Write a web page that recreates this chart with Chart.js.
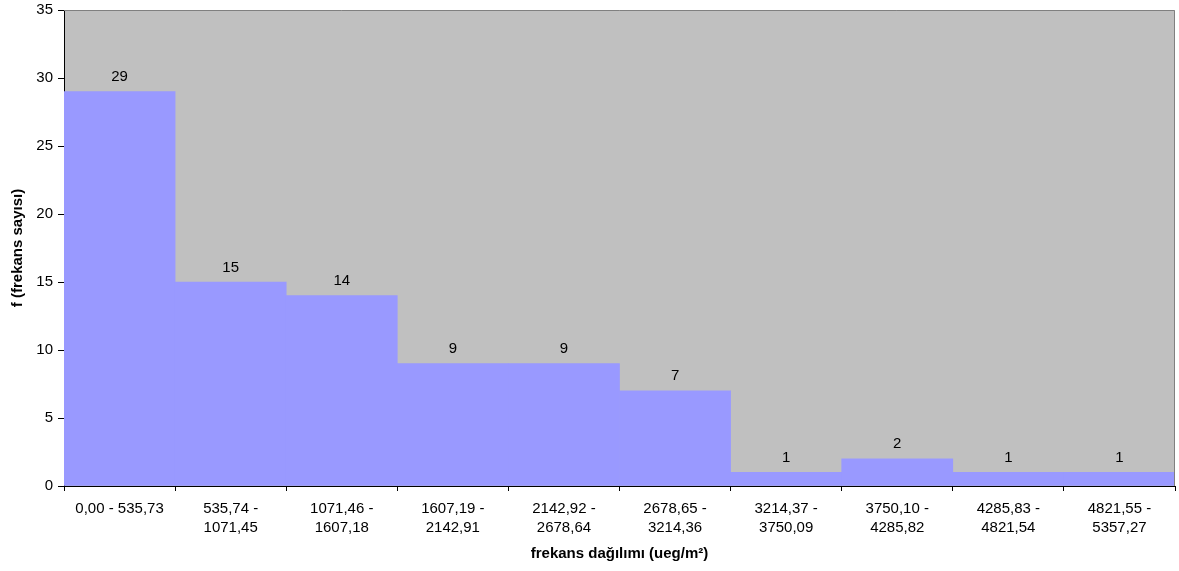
<!DOCTYPE html>
<html><head><meta charset="utf-8">
<script src="https://cdn.jsdelivr.net/npm/chart.js@4/dist/chart.umd.min.js"></script>
<style>html,body{margin:0;padding:0;background:#fff}#w{width:1179px;height:571px}</style>
</head><body><div id="w"><canvas id="c"></canvas></div>
<script>
const categories = [
  "0,00 - 535,73",
  ["535,74 -", "1071,45"],
  ["1071,46 -", "1607,18"],
  ["1607,19 -", "2142,91"],
  ["2142,92 -", "2678,64"],
  ["2678,65 -", "3214,36"],
  ["3214,37 -", "3750,09"],
  ["3750,10 -", "4285,82"],
  ["4285,83 -", "4821,54"],
  ["4821,55 -", "5357,27"]
];
const frequencies = [29, 15, 14, 9, 9, 7, 1, 2, 1, 1];
const yTitle = "f (frekans sayısı)";
const xTitle = "frekans dağılımı (ueg/m²)";

const FONT = "'Liberation Sans', Arial, sans-serif";

const areaPlugin = {
  id: 'area',
  beforeDraw(chart) {
    const a = chart.chartArea, ctx = chart.ctx;
    ctx.save();
    ctx.fillStyle = '#C0C0C0';
    ctx.fillRect(a.left, a.top, a.right - a.left, a.bottom - a.top);
    ctx.restore();
  },
  afterDraw(chart) {
    const a = chart.chartArea, ctx = chart.ctx;
    ctx.save();
    ctx.strokeStyle = '#808080';
    ctx.lineWidth = 1;
    ctx.beginPath();
    ctx.moveTo(a.left, a.top + 0.5);
    ctx.lineTo(a.right - 0.5, a.top + 0.5);
    ctx.lineTo(a.right - 0.5, a.bottom);
    ctx.stroke();
    // data labels
    ctx.fillStyle = '#000';
    ctx.font = '15px ' + FONT;
    ctx.textAlign = 'center';
    ctx.textBaseline = 'bottom';
    const meta = chart.getDatasetMeta(0);
    meta.data.forEach((bar, i) => {
      ctx.fillText(String(chart.data.datasets[0].data[i]), bar.x, bar.y - 7);
    });
    ctx.restore();
  }
};

new Chart(document.getElementById('c'), {
  type: 'bar',
  data: {
    labels: categories,
    datasets: [{
      data: frequencies,
      backgroundColor: '#9999FF',
      borderWidth: 0,
      barPercentage: 1,
      categoryPercentage: 1
    }]
  },
  options: {
    responsive: true,
    maintainAspectRatio: false,
    animation: false,
    layout: { padding: { top: 10, right: 4, left: 0, bottom: 0 } },
    plugins: { legend: { display: false }, tooltip: { enabled: false } },
    scales: {
      x: {
        offset: true,
        grid: { display: true, offset: true, drawOnChartArea: false, drawTicks: true, tickLength: 5, color: '#000' },
        border: { display: true, color: '#000', width: 1 },
        ticks: { color: '#000', font: { family: FONT, size: 15, lineHeight: 1.3 }, padding: 8, maxRotation: 0, autoSkip: false },
        title: { display: true, text: xTitle, color: '#000', font: { family: FONT, size: 15, weight: 'bold' }, padding: { top: 4, bottom: 8 } },
        afterFit(s) { s.height = 85; s.paddingLeft = 0; s.paddingRight = 0; }
      },
      y: {
        min: 0, max: 35,
        grid: { display: true, drawOnChartArea: false, drawTicks: true, tickLength: 6, color: '#000' },
        border: { display: true, color: '#000', width: 1 },
        ticks: { stepSize: 5, color: '#000', font: { family: FONT, size: 15 }, padding: 5 },
        title: { display: true, text: yTitle, color: '#000', font: { family: FONT, size: 15, weight: 'bold' }, padding: { top: 9, bottom: 4 } },
        afterFit(s) { s.width = 64; s.paddingTop = 0; s.paddingBottom = 0; }
      }
    }
  },
  plugins: [areaPlugin]
});
</script>
</body></html>
